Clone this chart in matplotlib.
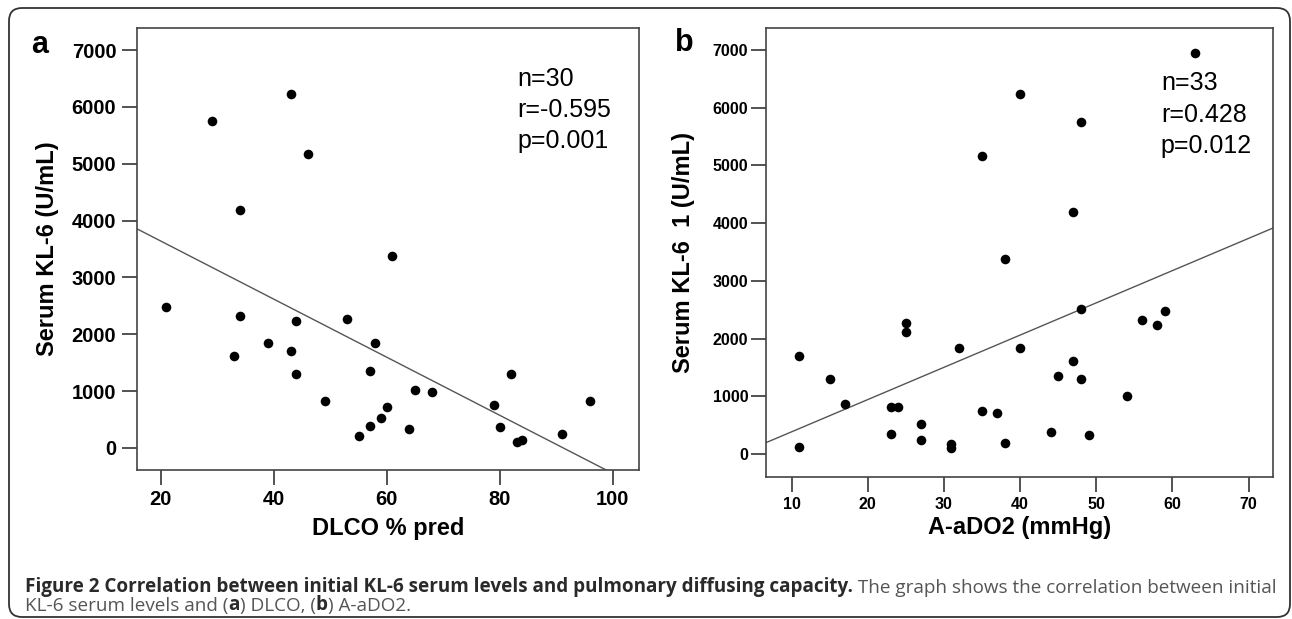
import matplotlib
matplotlib.use("Agg")
import matplotlib.pyplot as plt
import numpy as np
from matplotlib import font_manager
from matplotlib.patches import FancyBboxPatch

# Panel a: DLCO % pred vs serum KL-6
dlco = [29, 43, 46, 34, 61, 21, 34, 44, 53, 39, 33, 43, 58, 44, 57,
        82, 49, 65, 68, 79, 96, 60, 59, 57, 55, 64, 80, 83, 84, 91]
kl6_a = [5750, 6230, 5170, 4190, 3370, 2480, 2320, 2240, 2270, 1850, 1620, 1700, 1850, 1300, 1360,
         1300, 830, 1010, 980, 750, 820, 720, 520, 380, 200, 340, 360, 110, 130, 250]
stats_a = ["n=30", "r=-0.595", "p=0.001"]
xticks_a = [20, 40, 60, 80, 100]

# Panel b: A-aDO2 vs serum KL-6
aado2 = [63, 40, 48, 35, 47, 38, 48, 59, 56, 58, 25, 25, 32, 40, 11, 47, 15,
         45, 48, 54, 17, 23, 24, 35, 37, 27, 23, 27, 44, 49, 38, 31, 31, 11]
kl6_b = [6950, 6240, 5760, 5170, 4200, 3380, 2520, 2480, 2320, 2240, 2270, 2120, 1840, 1840, 1700, 1620, 1300,
         1360, 1300, 1010, 870, 820, 820, 740, 720, 520, 350, 250, 380, 330, 200, 180, 100, 130]
stats_b = ["n=33", "r=0.428", "p=0.012"]
xticks_b = [10, 20, 30, 40, 50, 60, 70]

yticks = [0, 1000, 2000, 3000, 4000, 5000, 6000, 7000]

W, H = 1292, 619
plt.rcParams["font.family"] = ["Liberation Sans", "DejaVu Sans"]

names = {f.name for f in font_manager.fontManager.ttflist}
if "Liberation Sans Narrow" in names:
    CAP_FONT, CAP_SIZE = "Liberation Sans Narrow", 15.5
else:
    CAP_FONT, CAP_SIZE = "Open Sans", 13.6

fig = plt.figure(figsize=(W / 100, H / 100), dpi=100)

# background layer in pixel coordinates: frame + caption
bg = fig.add_axes([0, 0, 1, 1], zorder=-1)
bg.set_xlim(0, W)
bg.set_ylim(H, 0)
bg.axis("off")
bg.add_patch(FancyBboxPatch((9, 8), 1281, 609, boxstyle="round,pad=0,rounding_size=13",
                            fill=False, edgecolor="#333333", linewidth=1.3))


def px_axes(left, top, right, bottom):
    return fig.add_axes([left / W, 1 - bottom / H, (right - left) / W, (bottom - top) / H])


def draw_panel(ax, x, y, xlim, xticks, stats, xlabel, ylabel, tsize, stat_pos, label_x, label_y):
    ax.scatter(x, y, s=48, color="black", zorder=3, linewidths=0)
    slope, icpt = np.polyfit(x, y, 1)
    ax.axline((0, icpt), slope=slope, color="#555555", linewidth=1.0, zorder=2)
    ax.set_xlim(*xlim)
    ax.set_ylim(-390, 7390)
    ax.set_xticks(xticks)
    ax.set_yticks(yticks)
    for s in ax.spines.values():
        s.set_color("#444444")
        s.set_linewidth(1.2)
    ax.tick_params(direction="out", length=10.5, width=1.3, color="#444444",
                   labelsize=tsize, pad=4)
    for lab in ax.get_xticklabels() + ax.get_yticklabels():
        lab.set_fontweight("bold")
    ax.text(stat_pos[0], stat_pos[1], "\n".join(stats), transform=ax.transAxes,
            ha="left", va="center", fontsize=18, linespacing=1.38)
    ax.set_xlabel(xlabel, fontsize=17, fontweight="bold", va="center")
    ax.xaxis.set_label_coords(0.5, label_x)
    ax.set_ylabel(ylabel, fontsize=17, fontweight="bold", va="center")
    ax.yaxis.set_label_coords(label_y, 0.5)


ax_a = px_axes(136.5, 28, 639.3, 470)
draw_panel(ax_a, dlco, kl6_a, (15.7, 104.7), xticks_a, stats_a, "DLCO % pred",
           "Serum KL-6 (U/mL)", 14.5, (0.757, 0.815), -0.133, -0.178)

ax_b = px_axes(765.6, 27.5, 1273, 476.7)
draw_panel(ax_b, aado2, kl6_b, (6.6, 73.2), xticks_b, stats_b, "A-aDO2 (mmHg)",
           "Serum KL-6  1 (U/mL)", 11.5, (0.779, 0.806), -0.114, -0.161)
ax_b.tick_params(axis="y", pad=2)

bg.text(40, 45, "a", fontsize=22, fontweight="bold", ha="center", va="center")
bg.text(684, 43, "b", fontsize=22, fontweight="bold", ha="center", va="center")

# caption with mixed weights, chained piece by piece
dark, grey = "#2a2a2a", "#555555"


def chain(prev, txt, weight, color):
    return bg.annotate(txt, xy=(1, 0), xycoords=prev, ha="left", va="bottom",
                       fontsize=CAP_SIZE, fontweight=weight, color=color, family=CAP_FONT)


t = bg.text(25, 592, "Figure 2 Correlation between initial KL-6 serum levels and pulmonary diffusing capacity.",
            fontsize=CAP_SIZE, fontweight="bold", color=dark, family=CAP_FONT, ha="left", va="baseline")
chain(t, " The graph shows the correlation between initial", "normal", grey)

t = bg.text(25, 611, "KL-6 serum levels and (", fontsize=CAP_SIZE, color=grey, family=CAP_FONT,
            ha="left", va="baseline")
for piece, weight, color in [("a", "bold", dark), (") DLCO, (", "normal", grey),
                             ("b", "bold", dark), (") A-aDO2.", "normal", grey)]:
    t = chain(t, piece, weight, color)

fig.savefig("out.png", dpi=100)
